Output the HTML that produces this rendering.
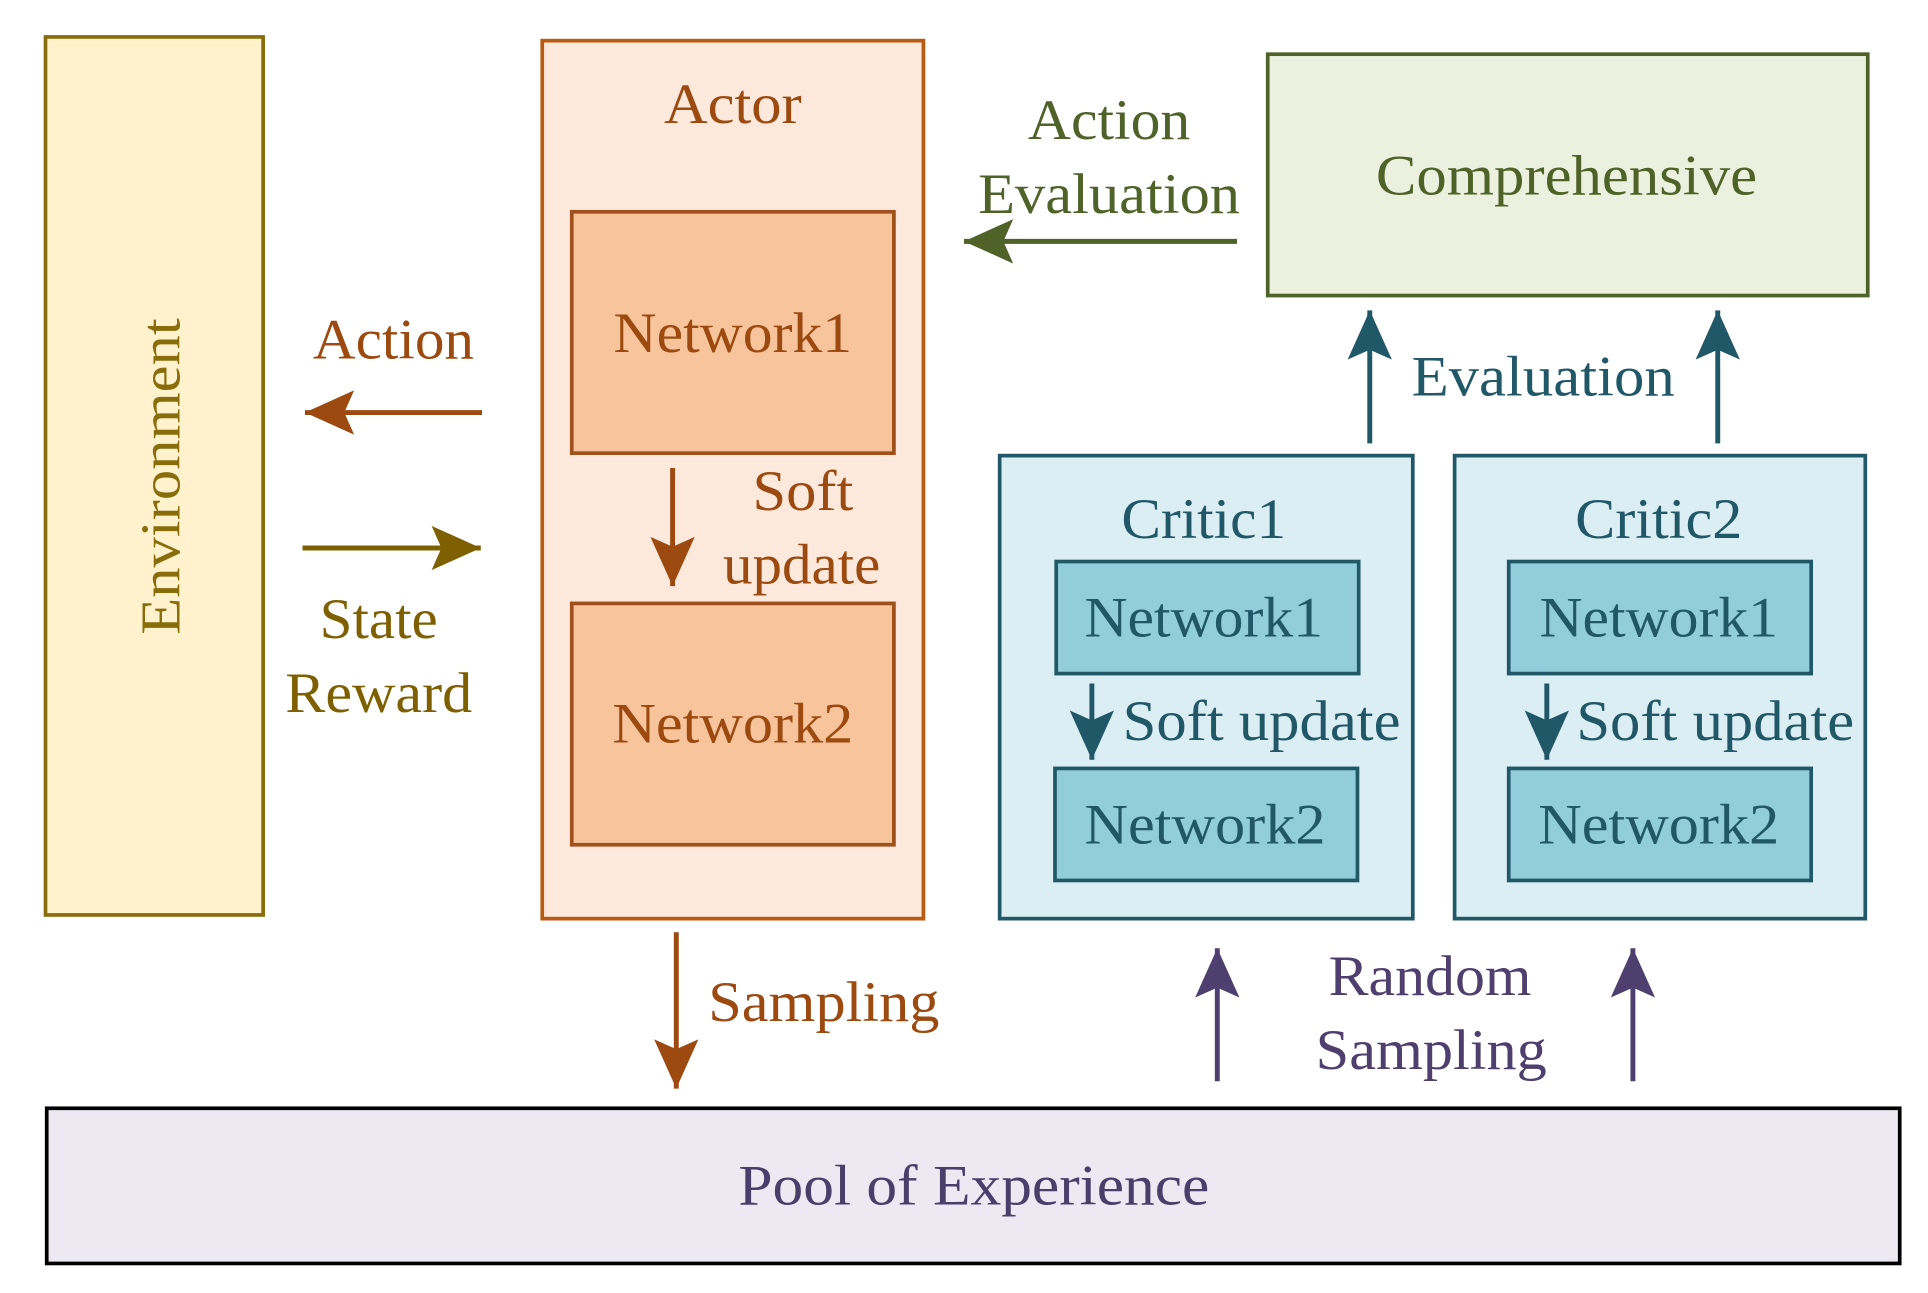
<!DOCTYPE html>
<html><head><meta charset="utf-8"><style>html,body{margin:0;padding:0;background:#fff}svg{display:block}text{font-family:"Liberation Serif",serif;font-size:46px}</style></head><body>
<svg width="1928" height="1293" viewBox="0 0 1568 1050" preserveAspectRatio="none" xmlns="http://www.w3.org/2000/svg">
<defs>
<marker id="a1" markerUnits="userSpaceOnUse" markerWidth="40" markerHeight="40" refX="40" refY="20" orient="auto"><path d="M0,2 L40,20 L0,38 L8,20 Z" fill="#9c4a0f"/></marker>
<marker id="a2" markerUnits="userSpaceOnUse" markerWidth="40" markerHeight="40" refX="40" refY="20" orient="auto"><path d="M0,2 L40,20 L0,38 L8,20 Z" fill="#7f6000"/></marker>
<marker id="a3" markerUnits="userSpaceOnUse" markerWidth="40" markerHeight="40" refX="40" refY="20" orient="auto"><path d="M0,2 L40,20 L0,38 L8,20 Z" fill="#4f6228"/></marker>
<marker id="a4" markerUnits="userSpaceOnUse" markerWidth="40" markerHeight="40" refX="40" refY="20" orient="auto"><path d="M0,2 L40,20 L0,38 L8,20 Z" fill="#215868"/></marker>
<marker id="a5" markerUnits="userSpaceOnUse" markerWidth="40" markerHeight="40" refX="40" refY="20" orient="auto"><path d="M0,2 L40,20 L0,38 L8,20 Z" fill="#4f3f6e"/></marker>
</defs>
<!-- Environment -->
<rect x="37" y="30" width="177" height="713" fill="#fff2cc" stroke="#8a6d0b" stroke-width="3"/>
<text transform="translate(146,387) rotate(-90)" text-anchor="middle" fill="#8a6d0b" textLength="257" lengthAdjust="spacingAndGlyphs">Environment</text>
<!-- Actor -->
<rect x="441" y="33" width="310" height="713" fill="#fce9dc" stroke="#b85a10" stroke-width="3"/>
<text x="596" y="100" text-anchor="middle" fill="#9c4a0f" textLength="112" lengthAdjust="spacingAndGlyphs">Actor</text>
<rect x="465" y="172" width="262" height="196" fill="#f8c49c" stroke="#a0501a" stroke-width="3"/>
<text x="596" y="286" text-anchor="middle" fill="#9c4a0f" textLength="194" lengthAdjust="spacingAndGlyphs">Network1</text>
<rect x="465" y="490" width="262" height="196" fill="#f8c49c" stroke="#a0501a" stroke-width="3"/>
<text x="596" y="603" text-anchor="middle" fill="#9c4a0f" textLength="196" lengthAdjust="spacingAndGlyphs">Network2</text>
<line x1="547" y1="380" x2="547" y2="476" stroke="#9c4a0f" stroke-width="4" marker-end="url(#a1)"/>
<text x="653" y="414" text-anchor="middle" fill="#9c4a0f" textLength="82" lengthAdjust="spacingAndGlyphs">Soft</text>
<text x="652" y="474" text-anchor="middle" fill="#9c4a0f" textLength="128" lengthAdjust="spacingAndGlyphs">update</text>
<!-- Left arrows -->
<text x="320" y="291" text-anchor="middle" fill="#9c4a0f" textLength="131" lengthAdjust="spacingAndGlyphs">Action</text>
<line x1="392" y1="335" x2="248" y2="335" stroke="#9c4a0f" stroke-width="4" marker-end="url(#a1)"/>
<line x1="246" y1="445" x2="391" y2="445" stroke="#7f6000" stroke-width="4" marker-end="url(#a2)"/>
<text x="308" y="518" text-anchor="middle" fill="#7f6000" textLength="96" lengthAdjust="spacingAndGlyphs">State</text>
<text x="308" y="578" text-anchor="middle" fill="#7f6000" textLength="152" lengthAdjust="spacingAndGlyphs">Reward</text>
<!-- Comprehensive -->
<rect x="1031" y="44" width="488" height="196" fill="#ebf1de" stroke="#4f6228" stroke-width="3"/>
<text x="1274" y="158" text-anchor="middle" fill="#4f6228" textLength="310" lengthAdjust="spacingAndGlyphs">Comprehensive</text>
<text x="902" y="113" text-anchor="middle" fill="#4f6228" textLength="132" lengthAdjust="spacingAndGlyphs">Action</text>
<text x="902" y="173" text-anchor="middle" fill="#4f6228" textLength="213" lengthAdjust="spacingAndGlyphs">Evaluation</text>
<line x1="1006" y1="196" x2="784" y2="196" stroke="#4f6228" stroke-width="4" marker-end="url(#a3)"/>
<!-- Critics -->
<rect x="813" y="370" width="336" height="376" fill="#dbeef4" stroke="#215868" stroke-width="3"/>
<text x="979" y="437" text-anchor="middle" fill="#215868" textLength="134" lengthAdjust="spacingAndGlyphs">Critic1</text>
<rect x="859" y="456" width="246" height="91" fill="#92cddc" stroke="#215868" stroke-width="3"/>
<text x="979" y="517" text-anchor="middle" fill="#215868" textLength="194" lengthAdjust="spacingAndGlyphs">Network1</text>
<rect x="858" y="624" width="246" height="91" fill="#92cddc" stroke="#215868" stroke-width="3"/>
<text x="980" y="685" text-anchor="middle" fill="#215868" textLength="196" lengthAdjust="spacingAndGlyphs">Network2</text>
<line x1="888" y1="555" x2="888" y2="617" stroke="#215868" stroke-width="4" marker-end="url(#a4)"/>
<text x="913" y="601" fill="#215868" textLength="226" lengthAdjust="spacingAndGlyphs">Soft update</text>

<rect x="1183" y="370" width="334" height="376" fill="#dbeef4" stroke="#215868" stroke-width="3"/>
<text x="1349" y="437" text-anchor="middle" fill="#215868" textLength="136" lengthAdjust="spacingAndGlyphs">Critic2</text>
<rect x="1227" y="456" width="246" height="91" fill="#92cddc" stroke="#215868" stroke-width="3"/>
<text x="1349" y="517" text-anchor="middle" fill="#215868" textLength="194" lengthAdjust="spacingAndGlyphs">Network1</text>
<rect x="1227" y="624" width="246" height="91" fill="#92cddc" stroke="#215868" stroke-width="3"/>
<text x="1349" y="685" text-anchor="middle" fill="#215868" textLength="196" lengthAdjust="spacingAndGlyphs">Network2</text>
<line x1="1258" y1="555" x2="1258" y2="617" stroke="#215868" stroke-width="4" marker-end="url(#a4)"/>
<text x="1282" y="601" fill="#215868" textLength="226" lengthAdjust="spacingAndGlyphs">Soft update</text>
<!-- Evaluation -->
<line x1="1114" y1="360" x2="1114" y2="252" stroke="#215868" stroke-width="4" marker-end="url(#a4)"/>
<line x1="1397" y1="360" x2="1397" y2="252" stroke="#215868" stroke-width="4" marker-end="url(#a4)"/>
<text x="1255" y="321" text-anchor="middle" fill="#215868" textLength="214" lengthAdjust="spacingAndGlyphs">Evaluation</text>
<!-- Sampling -->
<line x1="550" y1="757" x2="550" y2="884" stroke="#9c4a0f" stroke-width="4" marker-end="url(#a1)"/>
<text x="576" y="829" fill="#9c4a0f" textLength="188" lengthAdjust="spacingAndGlyphs">Sampling</text>
<line x1="990" y1="878" x2="990" y2="770" stroke="#4f3f6e" stroke-width="4" marker-end="url(#a5)"/>
<line x1="1328" y1="878" x2="1328" y2="770" stroke="#4f3f6e" stroke-width="4" marker-end="url(#a5)"/>
<text x="1163" y="808" text-anchor="middle" fill="#4f3f6e" textLength="165" lengthAdjust="spacingAndGlyphs">Random</text>
<text x="1164" y="868" text-anchor="middle" fill="#4f3f6e" textLength="188" lengthAdjust="spacingAndGlyphs">Sampling</text>
<!-- Pool -->
<rect x="38" y="900" width="1507" height="126" fill="#ece9f2" stroke="#000" stroke-width="3"/>
<text x="792" y="978" text-anchor="middle" fill="#4a3f6a" textLength="383" lengthAdjust="spacingAndGlyphs">Pool of Experience</text>
</svg>
</body></html>
